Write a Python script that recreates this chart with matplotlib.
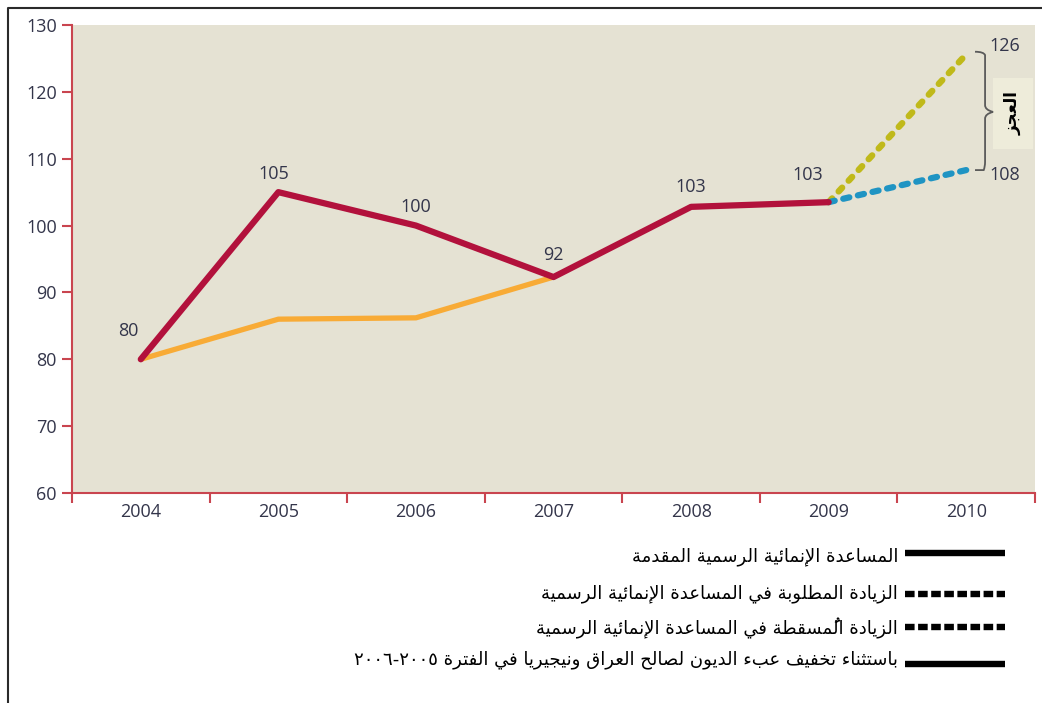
import unicodedata
import matplotlib
matplotlib.use("Agg")
import matplotlib.pyplot as plt
from matplotlib.path import Path
from matplotlib.patches import PathPatch, Rectangle

# ---- data --------------------------------------------------------------
years = ["2004", "2005", "2006", "2007", "2008", "2009", "2010"]

# official development assistance delivered, 2004-2009
oda_delivered = [80, 105, 100, 92.3, 102.8, 103.5]
oda_delivered_labels = ["80", "105", "100", "92", "103", "103"]

# excluding debt relief for Iraq and Nigeria, 2004-2007
oda_excl_debt = [80, 86.0, 86.2, 92.3]

# 2009 -> 2010 required vs projected increase
required_increase = [103.5, 125.6]
required_label = "126"
projected_increase = [103.5, 108.3]
projected_label = "108"

gap_label = "العجز"
legend_labels = [
    "المساعدة الإنمائية الرسمية المقدمة",
    "الزيادة المطلوبة في المساعدة الإنمائية الرسمية",
    "الزيادة المُسقطة في المساعدة الإنمائية الرسمية",
    "باستثناء تخفيف عبء الديون لصالح العراق ونيجيريا في الفترة ٢٠٠٥-٢٠٠٦",
]

RED = "#b2113c"
ORANGE = "#f8ab36"
OLIVE = "#c0b91a"
BLUE = "#1f94c3"
SPINE = "#c9454f"
TXT = "#33354a"
BG = "#e5e2d3"


# ---- minimal Arabic shaping (matplotlib has no complex text layout) ---
RIGHT_JOIN_ONLY = set("اأإآدذرزوؤة")
ALEFS = set("اأإآ")


def is_letter(c):
    return c is not None and "\u0621" <= c <= "\u064a"


def is_mark(c):
    return unicodedata.category(c) == "Mn"


def shape_arabic(text):
    chars = list(text)
    n = len(chars)

    def neighbour(i, step):
        j = i + step
        while 0 <= j < n and is_mark(chars[j]):
            j += step
        return chars[j] if 0 <= j < n else None

    def links_next(c):
        return is_letter(c) and c not in RIGHT_JOIN_ONLY and c != "ء"

    def links_prev(c):
        return is_letter(c) and c != "ء"

    out = []
    i = 0
    while i < n:
        c = chars[i]
        if not is_letter(c):
            out.append(c)
            i += 1
            continue
        prev = neighbour(i, -1)
        nxt = neighbour(i, 1)
        joined_prev = links_next(prev) and links_prev(c)
        if c == "ل" and i + 1 < n and chars[i + 1] in ALEFS:
            form = "FINAL" if joined_prev else "ISOLATED"
            alef = unicodedata.name(chars[i + 1]).replace("ARABIC LETTER ", "")
            out.append(unicodedata.lookup(f"ARABIC LIGATURE LAM WITH {alef} {form} FORM"))
            i += 2
            continue
        joined_next = links_next(c) and links_prev(nxt)
        if joined_prev and joined_next:
            form = "MEDIAL"
        elif joined_prev:
            form = "FINAL"
        elif joined_next:
            form = "INITIAL"
        else:
            form = "ISOLATED"
        try:
            out.append(unicodedata.lookup(f"{unicodedata.name(c)} {form} FORM"))
        except KeyError:
            out.append(c)
        i += 1
    return "".join(out)


def visual_order(text):
    tokens = []
    for c in text:
        if is_mark(c) and tokens:
            tokens[-1] += c
        elif c.isdigit() and tokens and tokens[-1][-1].isdigit():
            tokens[-1] += c
        else:
            tokens.append(c)
    return "".join(reversed(tokens))


def arabic(text):
    return visual_order(shape_arabic(text))


# ---- figure ------------------------------------------------------------
fig = plt.figure(figsize=(10.42, 7.03), dpi=100)
ax = fig.add_axes([72 / 1042, 1 - 493 / 703, 963 / 1042, 468 / 703])
ax.set_facecolor(BG)

x = list(range(len(years)))
ax.plot(x[:4], oda_excl_debt, color=ORANGE, lw=3.8, solid_capstyle="round",
        solid_joinstyle="round", zorder=3)
ax.plot(x[:6], oda_delivered, color=RED, lw=4.5, solid_capstyle="round",
        solid_joinstyle="round", zorder=4)
ax.plot(x[5:7], required_increase, color=OLIVE, lw=4.6, linestyle=(0, (0.8, 1.5)),
        dash_capstyle="round", zorder=3)
ax.plot(x[5:7], projected_increase, color=BLUE, lw=4.5, linestyle=(0, (1.0, 1.4)),
        dash_capstyle="round", zorder=3)

offsets = [(-12, 28), (-5, 18), (0, 19), (0, 22), (0, 20), (-21, 27)]
for xi, yi, lab, off in zip(x, oda_delivered, oda_delivered_labels, offsets):
    ax.annotate(lab, (xi, yi), xytext=off, textcoords="offset pixels",
                ha="center", va="center", fontsize=13, color=TXT,
                family="Open Sans", zorder=5)
ax.annotate(required_label, (x[6], required_increase[-1]), xytext=(39, 8),
            textcoords="offset pixels", ha="center", va="center",
            fontsize=13, color=TXT, family="Open Sans")
ax.annotate(projected_label, (x[6], projected_increase[-1]), xytext=(39, -5),
            textcoords="offset pixels", ha="center", va="center",
            fontsize=13, color=TXT, family="Open Sans")

# brace spanning the gap
top = required_increase[-1] + 0.4
bot = projected_increase[-1]
mid = 117.0
x0, xm, xt = 6.064, 6.137, 6.195
verts = [(x0, top), (xm - 0.01, top), (xm, top - 0.5), (xm, top - 1.2),
         (xm, mid + 1.0), (xm, mid + 0.3), (xt, mid),
         (xm, mid - 0.3), (xm, mid - 1.0),
         (xm, bot + 1.2), (xm, bot + 0.5), (xm - 0.01, bot), (x0, bot)]
codes = [Path.MOVETO, Path.CURVE3, Path.CURVE3, Path.LINETO,
         Path.LINETO, Path.CURVE3, Path.CURVE3,
         Path.CURVE3, Path.CURVE3,
         Path.LINETO, Path.CURVE3, Path.CURVE3, Path.LINETO]
ax.add_patch(PathPatch(Path(verts, codes), fill=False, edgecolor="#5a5a5a",
                       lw=1.3, zorder=5))
ax.add_patch(Rectangle((6.195, 111.45), 0.29, 10.6, facecolor="#eeecda",
                       edgecolor="none", zorder=4))
ax.text(6.34, 116.8, arabic(gap_label), rotation=90, ha="center", va="center",
        fontsize=12, fontweight="bold", color="black", family="DejaVu Sans", zorder=6)

ax.set_xlim(-0.5, 6.5)
ax.set_ylim(60, 130)
ax.set_yticks(range(60, 131, 10))
ax.set_xticks(x)
ax.set_xticklabels(years)
ax.set_xticks([i - 0.5 for i in range(len(years) + 1)], minor=True)
ax.tick_params(axis="x", which="major", length=0, pad=7, labelsize=13,
               labelcolor=TXT)
ax.tick_params(axis="x", which="minor", length=7, width=1.5, color=SPINE)
ax.tick_params(axis="y", length=7, width=1.5, color=SPINE, labelsize=13,
               labelcolor=TXT, pad=4)
for lab in ax.get_xticklabels() + ax.get_yticklabels():
    lab.set_family("Open Sans")
for side in ("top", "right"):
    ax.spines[side].set_visible(False)
for side in ("left", "bottom"):
    ax.spines[side].set_color(SPINE)
    ax.spines[side].set_linewidth(1.5)

# ---- overlay in pixel units: frame and legend ---------------------------
ov = fig.add_axes([0, 0, 1, 1])
ov.set_xlim(0, 1042)
ov.set_ylim(703, 0)
ov.axis("off")
ov.patch.set_alpha(0)
ov.plot([8, 8, 1042], [703, 8, 8], color="#2a2a2a", lw=1.5)

styles = ["-", (0, (1.5, 0.55)), (0, (1.5, 0.55)), "-"]
line_y = [553, 594, 627, 664]
text_y = [557, 594, 628, 660]
for sty, ly, ty, lab in zip(styles, line_y, text_y, legend_labels):
    ov.plot([905, 1005], [ly, ly], color="black", lw=4.6, linestyle=sty,
            solid_capstyle="butt", dash_capstyle="butt")
    ov.text(898, ty, arabic(lab), ha="right", va="center", fontsize=13,
            color="black", family="DejaVu Sans")

fig.savefig("out.png", dpi=100)
